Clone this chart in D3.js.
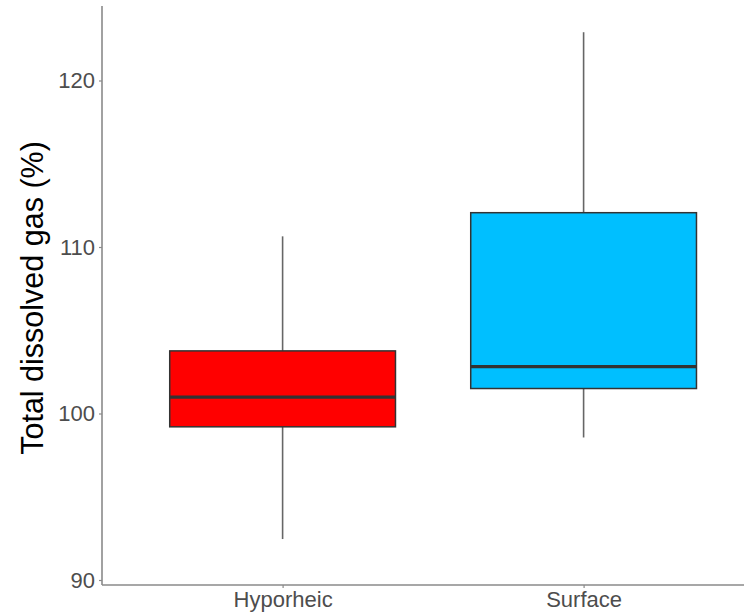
<!DOCTYPE html>
<html><head><meta charset="utf-8">
<script src="https://cdn.jsdelivr.net/npm/d3@7"></script>
<style>body{margin:0;background:#fff}svg{display:block}</style>
</head><body>
<script>
const categories = ["Hyporheic", "Surface"];
const colors = ["#ff0000", "#00bfff"];
const whiskerLow = [92.46, 98.56];
const q1 = [99.2, 101.5];
const median = [100.98, 102.82];
const q3 = [103.76, 112.06];
const whiskerHigh = [110.64, 122.9];
const yTicks = [90, 100, 110, 120];

const W = 744, H = 616;
const svg = d3.select("body").append("svg").attr("width", W).attr("height", H);

const mLeft = 102, mTop = 6, mBottom = 585;
const unit = 301;
const x = d3.scalePoint().domain(categories).range([mLeft + 0.6 * unit, mLeft + 1.6 * unit]);
const y = d3.scaleLinear().domain([90, 120]).range([580, 80.5]);
const boxW = 0.75 * unit;

const data = categories.map((c, i) => ({c, col: colors[i], lo: whiskerLow[i], q1: q1[i], med: median[i], q3: q3[i], hi: whiskerHigh[i]}));

const g = svg.append("g");
// whiskers
g.selectAll("line.wu").data(data).join("line")
  .attr("x1", d => x(d.c)).attr("x2", d => x(d.c))
  .attr("y1", d => y(d.q3)).attr("y2", d => y(d.hi))
  .attr("stroke", "#666").attr("stroke-width", 1.6);
g.selectAll("line.wl").data(data).join("line")
  .attr("x1", d => x(d.c)).attr("x2", d => x(d.c))
  .attr("y1", d => y(d.q1)).attr("y2", d => y(d.lo))
  .attr("stroke", "#666").attr("stroke-width", 1.6);
// boxes
g.selectAll("rect").data(data).join("rect")
  .attr("x", d => x(d.c) - boxW / 2).attr("width", boxW)
  .attr("y", d => y(d.q3)).attr("height", d => y(d.q1) - y(d.q3))
  .attr("fill", d => d.col).attr("stroke", "#333").attr("stroke-width", 1.5);
// medians
g.selectAll("line.med").data(data).join("line")
  .attr("x1", d => x(d.c) - boxW / 2).attr("x2", d => x(d.c) + boxW / 2)
  .attr("y1", d => y(d.med)).attr("y2", d => y(d.med))
  .attr("stroke", "#333").attr("stroke-width", 3.2);

// axes
const axisColor = "#8a8a8a";
svg.append("line").attr("x1", mLeft).attr("x2", mLeft).attr("y1", mTop).attr("y2", mBottom)
  .attr("stroke", axisColor).attr("stroke-width", 1.6);
svg.append("line").attr("x1", mLeft).attr("x2", W).attr("y1", mBottom).attr("y2", mBottom)
  .attr("stroke", axisColor).attr("stroke-width", 1.6);

const font = "Liberation Sans, Arial, sans-serif";
const ya = svg.append("g").attr("transform", `translate(${mLeft},0)`)
  .call(d3.axisLeft(y).tickValues(yTicks).tickSize(3).tickPadding(4).tickFormat(d3.format("d")));
ya.select(".domain").remove();
ya.selectAll(".tick line").attr("stroke", axisColor).attr("stroke-width", 1.2);
ya.selectAll(".tick text").attr("fill", "#4d4d4d").style("font-family", font).style("font-size", "22px");

const xa = svg.append("g").attr("transform", `translate(0,${mBottom})`)
  .call(d3.axisBottom(x).tickSize(3).tickPadding(3));
xa.select(".domain").remove();
xa.selectAll(".tick line").attr("stroke", axisColor).attr("stroke-width", 1.2);
xa.selectAll(".tick text").attr("fill", "#4d4d4d").style("font-family", font).style("font-size", "22px");

svg.append("text").attr("transform", `translate(43,298) rotate(-90)`)
  .attr("text-anchor", "middle").attr("fill", "#000")
  .style("font-family", font).style("font-size", "30.5px")
  .text("Total dissolved gas (%)");
</script>
</body></html>
